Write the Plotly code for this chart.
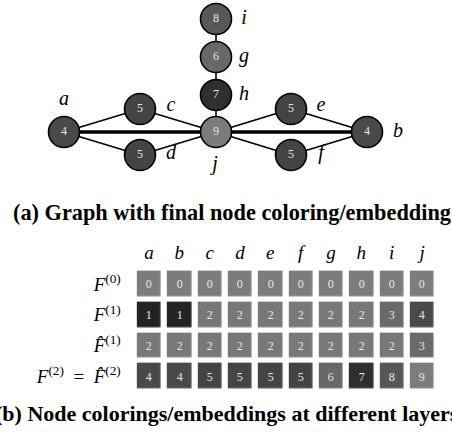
import plotly.graph_objects as go

# ---------------- data ----------------
nodes = ["a", "b", "c", "d", "e", "f", "g", "h", "i", "j"]
final_colors = [4, 4, 5, 5, 5, 5, 6, 7, 8, 9]
edges = [("a", "c"), ("a", "d"), ("c", "j"), ("d", "j"),
         ("j", "e"), ("j", "f"), ("e", "b"), ("f", "b"),
         ("j", "h"), ("h", "g"), ("g", "i")]
thick_edges = [("a", "j"), ("j", "b")]

row_labels = ["<i>F</i><sup>(0)</sup>",
              "<i>F</i><sup>(1)</sup>",
              "<i>F\u0302</i><sup>(1)</sup>",
              "<i>F</i><sup>(2)</sup>\u2002=\u2002<i>F\u0302</i><sup>(2)</sup>"]
F0 = [0, 0, 0, 0, 0, 0, 0, 0, 0, 0]
F1 = [1, 1, 2, 2, 2, 2, 2, 2, 3, 4]
F1_hat = [2, 2, 2, 2, 2, 2, 2, 2, 2, 3]
F2 = [4, 4, 5, 5, 5, 5, 6, 7, 8, 9]

caption_a = "(a) Graph with final node coloring/embedding"
caption_b = "(b) Node colorings/embeddings at different layers"

# ---------------- layout / style ----------------
W, H = 452, 442
pos = {"a": (64, 132), "b": (367, 132), "c": (140, 109), "d": (140, 155),
       "e": (291, 109), "f": (291, 155), "g": (216, 57), "h": (216, 95),
       "i": (216, 19), "j": (216, 132)}
label_pos = {"a": (64, 100), "b": (398, 132), "c": (171, 106), "d": (171, 154),
             "e": (321, 106), "f": (321, 154), "g": (244, 57), "h": (244, 95),
             "i": (244, 19), "j": (215, 165)}
palette = {0: "#7c7c7c", 1: "#242424", 2: "#787878", 3: "#6a6a6a", 4: "#4a4a4a",
           5: "#444444", 6: "#686868", 7: "#2f2f2f", 8: "#575757", 9: "#7c7c7c"}
SERIF = "Liberation Serif, Times New Roman, serif"


def px(x):
    return x / W


def py(y):
    return (H - y) / H


fig = go.Figure()

# edges
for group, width in ((edges, 1.6), (thick_edges, 3.4)):
    xs, ys = [], []
    for u, v in group:
        xs += [pos[u][0], pos[v][0], None]
        ys += [pos[u][1], pos[v][1], None]
    fig.add_trace(go.Scatter(x=xs, y=ys, mode="lines",
                             line=dict(color="black", width=width),
                             hoverinfo="skip", showlegend=False))

# nodes
fig.add_trace(go.Scatter(
    x=[pos[n][0] for n in nodes], y=[pos[n][1] for n in nodes],
    mode="markers+text",
    marker=dict(size=31, color=[palette[c] for c in final_colors],
                line=dict(color="black", width=1.6)),
    text=[str(c) for c in final_colors], textposition="middle center",
    textfont=dict(family=SERIF, size=12, color="#e6e6e6"),
    showlegend=False, hoverinfo="skip"))

# node names
fig.add_trace(go.Scatter(
    x=[label_pos[n][0] for n in nodes], y=[label_pos[n][1] for n in nodes],
    mode="text", text=[f"<i>{n}</i>" for n in nodes],
    textposition="middle center",
    textfont=dict(family=SERIF, size=20, color="black"),
    showlegend=False, hoverinfo="skip"))

# matrix
Z = [F0, F1, F1_hat, F2]
cs = []
for k in range(10):
    cs.append([k / 10, palette[k]])
    cs.append([(k + 1) / 10, palette[k]])
fig.add_trace(go.Heatmap(
    z=Z, x=nodes, y=list(range(len(row_labels))),
    text=[[str(v) for v in r] for r in Z], texttemplate="%{text}",
    textfont=dict(family=SERIF, size=12, color="#e6e6e6"),
    colorscale=cs, zmin=-0.5, zmax=9.5, showscale=False,
    xgap=6.3, ygap=5.3, xaxis="x2", yaxis="y2", hoverinfo="skip"))

x_left, x_right = 133.8, 437.2
y_top, y_bot = 268.6, 391.9
fig.update_layout(
    width=W, height=H, margin=dict(l=0, r=0, t=0, b=0),
    plot_bgcolor="white", paper_bgcolor="white",
    xaxis=dict(range=[0, W], domain=[0, 1], visible=False, fixedrange=True),
    yaxis=dict(range=[H, 0], domain=[0, 1], visible=False, fixedrange=True),
    xaxis2=dict(domain=[px(x_left), px(x_right)], anchor="y2", side="top",
                tickmode="array", tickvals=nodes,
                ticktext=[f"<i>{n}</i>" for n in nodes],
                tickfont=dict(family=SERIF, size=19, color="black"),
                showgrid=False, zeroline=False, showline=False, ticks="",
                ticklabelstandoff=5, fixedrange=True),
    yaxis2=dict(domain=[py(y_bot), py(y_top)], anchor="x2",
                tickmode="array", tickvals=list(range(len(row_labels))),
                ticktext=row_labels, autorange="reversed",
                tickfont=dict(family=SERIF, size=19, color="black"),
                showgrid=False, zeroline=False, showline=False, ticks="",
                ticklabelstandoff=12, fixedrange=True),
    annotations=[
        dict(text=f"<b>{caption_a}</b>", x=px(231.5), y=py(213), xref="paper", yref="paper",
             showarrow=False, xanchor="center", yanchor="middle",
             font=dict(family=SERIF, size=22.3, color="black")),
        dict(text=f"<b>{caption_b}</b>", x=px(227), y=py(413), xref="paper", yref="paper",
             showarrow=False, xanchor="center", yanchor="middle",
             font=dict(family=SERIF, size=22, color="black")),
    ],
)

fig.write_html("out.html", config={"displayModeBar": False},
               post_script="document.body.style.margin='0';")
